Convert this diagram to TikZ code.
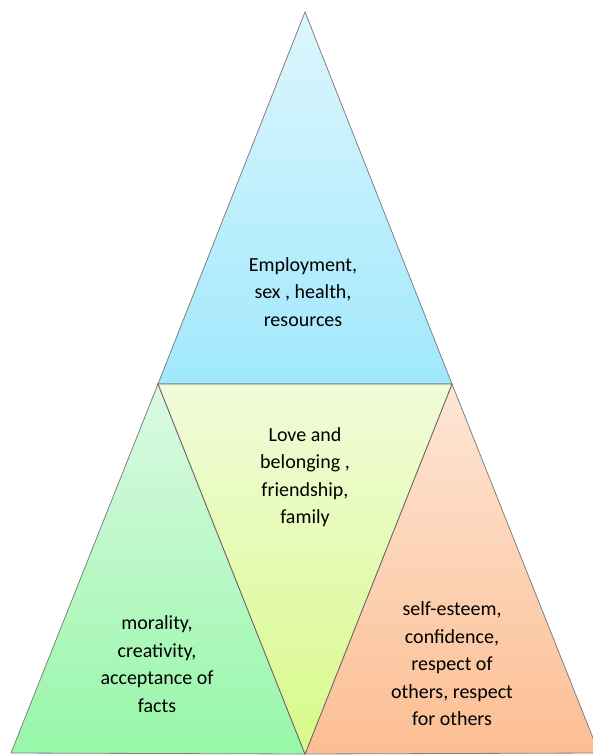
\documentclass[tikz,border=0pt]{standalone}
\usepackage{fontspec}
\setmainfont{Carlito}
\begin{document}
\begin{tikzpicture}[x=1pt,y=-1pt,
  edge/.style={draw=black!50,line width=0.8pt,line join=miter},
  label/.style={align=center,text=black,font=\fontsize{20}{27.5}\selectfont,inner sep=0pt}]
\useasboundingbox (0,0) rectangle (593,755);
\clip (0,0) rectangle (593,755);
% corner points of the figure
\coordinate (apex) at (305,12);
\coordinate (ml) at (158,384);
\coordinate (mr) at (452,384);
\coordinate (bl) at (11,753);
\coordinate (bm) at (305,754);
\coordinate (br) at (599,753);
% top triangle
\shade[top color={rgb,255:red,222;green,246;blue,253},bottom color={rgb,255:red,160;green,232;blue,252}]
  (apex) -- (mr) -- (ml) -- cycle;
\draw[edge] (apex) -- (mr) -- (ml) -- cycle;
% lower left triangle
\shade[top color={rgb,255:red,220;green,249;blue,228},bottom color={rgb,255:red,150;green,247;blue,168}]
  (ml) -- (bm) -- (bl) -- cycle;
\draw[edge] (ml) -- (bm) -- (bl) -- cycle;
% lower right triangle
\shade[top color={rgb,255:red,253;green,230;blue,214},bottom color={rgb,255:red,252;green,190;blue,146}]
  (mr) -- (br) -- (bm) -- cycle;
\draw[edge] (mr) -- (br) -- (bm) -- cycle;
% middle inverted triangle
\shade[top color={rgb,255:red,241;green,251;blue,218},bottom color={rgb,255:red,216;green,250;blue,136}]
  (ml) -- (mr) -- (bm) -- cycle;
\draw[edge,draw=black!60] (ml) -- (mr) -- (bm) -- cycle;
% texts
\node[label] (needs) at (303,292) {Employment,\\sex , health,\\resources};
\node[label] (love) at (305,477) {Love and\\belonging ,\\friendship,\\family};
\node[label] (moral) at (157,664) {morality,\\creativity,\\acceptance of\\facts};
\node[label] (esteem) at (452,664) {self-esteem,\\confidence,\\respect of\\others, respect\\for others};
\end{tikzpicture}
\end{document}
